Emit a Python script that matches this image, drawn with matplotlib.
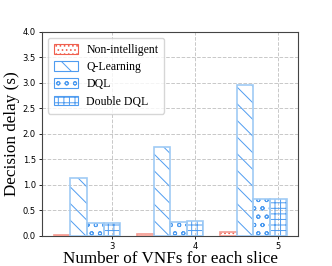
import matplotlib.pyplot as plt
import numpy as np

# 数据
vnfs = [3, 4, 5]
labels = ["Non-intelligent", "Q-Learning", "DQL", "Double DQL"]
non_intelligent = [0.02, 0.04, 0.07]
q_learning = [1.13, 1.75, 2.95]
dql = [0.25, 0.28, 0.72]
double_dql = [0.25, 0.30, 0.73]

series = [non_intelligent, q_learning, dql, double_dql]
hatch_colors = ["#f0604f", "#4f9cf0", "#4f9cf0", "#4f9cf0"]
edge_colors = ["#f59a90", "#9fcbf5", "#9fcbf5", "#9fcbf5"]
hatches = ["....", "\\\\", "oo", "+++"]

plt.rcParams['hatch.linewidth'] = 0.7
fig, ax = plt.subplots(figsize=(3.32, 2.66), dpi=100)
fig.subplots_adjust(left=0.127, right=0.898, top=0.88, bottom=0.113)

x = np.array(vnfs, dtype=float)
width = 0.2
for i, vals in enumerate(series):
    pos = x + (i - 3) * width
    # 阴影线
    ax.bar(pos, vals, width, facecolor="none", edgecolor=hatch_colors[i],
           hatch=hatches[i], linewidth=0, zorder=3)
    # 外框
    ax.bar(pos, vals, width, facecolor="none", edgecolor=edge_colors[i],
           linewidth=1.2, zorder=4)
    # 图例用
    ax.bar([0], [0], width, facecolor="none", edgecolor=hatch_colors[i],
           hatch=hatches[i], linewidth=0.8, label=labels[i])

ax.set_xlim(2.16, 5.24)
ax.set_ylim(0, 4.0)
ax.set_xticks(vnfs)
ax.set_yticks(np.arange(0, 4.01, 0.5))
ax.tick_params(labelsize=6, length=2.5, width=0.6, pad=2)
ax.grid(True, linestyle='--', color='#c8c8c8', linewidth=0.7, zorder=0)
for s in ax.spines.values():
    s.set_color('#444444')
    s.set_linewidth(0.8)

ax.set_xlabel("Number of VNFs for each slice", family="Liberation Serif",
              fontsize=12.3, labelpad=0)
ax.set_ylabel("Decision delay (s)", family="Liberation Serif",
              fontsize=12.3, labelpad=2)
ax.legend(loc="upper left", prop={"family": "Liberation Serif", "size": 8.5},
          handlelength=2.0, handleheight=0.9, labelspacing=0.45,
          borderpad=0.5, handletextpad=0.75)

plt.savefig("out.png", dpi=100)
